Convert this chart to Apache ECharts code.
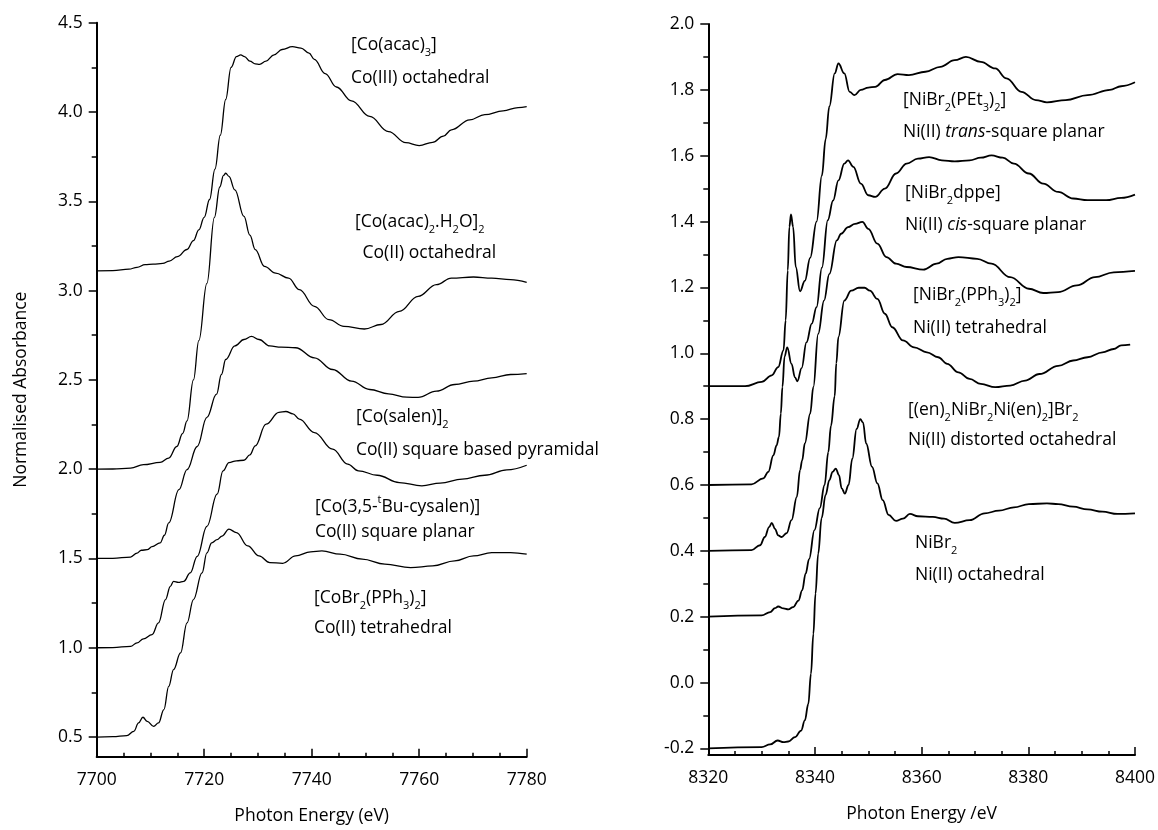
<!DOCTYPE html>
<html>
<head>
<meta charset="utf-8">
<script src="https://cdn.jsdelivr.net/npm/echarts@6/dist/echarts.min.js"></script>
<style>
html,body{margin:0;padding:0;background:#fff;}
#chart{width:1158px;height:830px;}
</style>
</head>
<body>
<div id="chart"></div>
<script>
// ---------- tick values ----------
const leftXTicks = [7700, 7720, 7740, 7760, 7780];
const leftYTicks = [0.5, 1.0, 1.5, 2.0, 2.5, 3.0, 3.5, 4.0, 4.5];
const leftYMinor = [0.75, 1.25, 1.75, 2.25, 2.75, 3.25, 3.75, 4.25];
const rightXTicks = [8320, 8340, 8360, 8380, 8400];
const rightYTicks = [-0.2, 0.0, 0.2, 0.4, 0.6, 0.8, 1.0, 1.2, 1.4, 1.6, 1.8, 2.0];
const rightYMinor = [-0.1, 0.1, 0.3, 0.5, 0.7, 0.9, 1.1, 1.3, 1.5, 1.7, 1.9];

// ---------- Co K-edge spectra (energy eV, normalised absorbance + offset) ----------
const coAcac3 = [[7700,3.11],[7703,3.112],[7706,3.12],[7707.5,3.13],[7709,3.145],[7710.5,3.148],[7712.3,3.152],[7713.5,3.165],[7715,3.19],[7716.8,3.23],[7718,3.28],[7719,3.34],[7720,3.41],[7721,3.51],[7722,3.68],[7723,3.87],[7724,4.07],[7725,4.25],[7726,4.31],[7726.8,4.32],[7727.5,4.31],[7728.5,4.285],[7729.5,4.27],[7730.3,4.267],[7731.5,4.285],[7733,4.32],[7734.5,4.35],[7736.4,4.366],[7738,4.358],[7739.5,4.33],[7740.5,4.295],[7742.5,4.215],[7744.6,4.14],[7747.4,4.062],[7750.8,3.975],[7754.3,3.89],[7757.5,3.828],[7760,3.812],[7762.5,3.83],[7764.5,3.865],[7766,3.9],[7769.4,3.956],[7772.2,3.985],[7775.6,4.006],[7778.4,4.025],[7780,4.03]];
const coAcac2H2O = [[7700,2.0],[7703,2.001],[7706.3,2.006],[7708.7,2.025],[7711.8,2.038],[7713.4,2.062],[7714.9,2.127],[7716,2.2],[7716.8,2.27],[7718,2.5],[7719,2.72],[7720.5,3.04],[7721.9,3.41],[7722.9,3.58],[7723.6,3.645],[7724,3.657],[7724.6,3.64],[7725.7,3.564],[7727.4,3.415],[7728.5,3.31],[7729.5,3.229],[7731.2,3.136],[7733.3,3.098],[7735.7,3.07],[7737.7,3.005],[7740.5,2.912],[7743.2,2.837],[7746,2.80],[7749.8,2.785],[7752.9,2.81],[7756.3,2.884],[7759.8,2.968],[7763.2,3.033],[7766,3.07],[7770.1,3.076],[7773.5,3.07],[7777,3.061],[7780,3.046]];
const coSalen = [[7700,1.5],[7703,1.501],[7706.3,1.508],[7707.5,1.53],[7708.3,1.546],[7709.4,1.549],[7710.3,1.566],[7711.8,1.587],[7712.6,1.63],[7713.4,1.699],[7715.3,1.885],[7716.8,1.997],[7718.7,2.127],[7720.5,2.29],[7722.3,2.42],[7723.2,2.53],[7724,2.614],[7725.7,2.69],[7727.4,2.726],[7728.8,2.744],[7730.2,2.726],[7732.2,2.69],[7734.3,2.683],[7737,2.68],[7740.5,2.623],[7743.9,2.558],[7747.4,2.493],[7750.8,2.446],[7754.3,2.422],[7757.7,2.403],[7759.8,2.402],[7763.2,2.437],[7766.6,2.474],[7770.1,2.493],[7773.5,2.511],[7777,2.53],[7780,2.535]];
const coCysalen = [[7700,1.0],[7703,1.001],[7706.3,1.008],[7707.5,1.027],[7708.7,1.05],[7710.3,1.074],[7711.5,1.139],[7712.8,1.27],[7713.7,1.344],[7714.3,1.372],[7715.2,1.366],[7716.2,1.372],[7717.4,1.419],[7718.7,1.512],[7720.5,1.68],[7722.4,1.86],[7723.5,1.99],[7724.6,2.037],[7726,2.047],[7727.4,2.05],[7728.5,2.08],[7729.5,2.131],[7731.5,2.252],[7733.9,2.318],[7735.2,2.323],[7736.5,2.31],[7737.7,2.28],[7740.5,2.205],[7743.9,2.112],[7746.7,2.028],[7748.7,1.991],[7752.2,1.966],[7756.3,1.925],[7760.5,1.907],[7763.9,1.922],[7768,1.944],[7772.2,1.966],[7776.3,1.996],[7780,2.022]];
const coBr2PPh3 = [[7700,0.5],[7703,0.502],[7705.6,0.508],[7706.9,0.532],[7707.8,0.579],[7708.6,0.611],[7709.4,0.588],[7710.6,0.56],[7711.5,0.579],[7712.5,0.654],[7713.4,0.784],[7714.3,0.878],[7715.6,0.971],[7716.8,1.139],[7718,1.27],[7719.6,1.419],[7720.5,1.531],[7721.4,1.587],[7722.4,1.605],[7723.3,1.625],[7724.6,1.664],[7726,1.645],[7728.1,1.57],[7730.2,1.514],[7732.2,1.477],[7734.6,1.473],[7737,1.514],[7739.8,1.537],[7741.9,1.542],[7745.3,1.524],[7749.4,1.496],[7753.6,1.468],[7758.4,1.449],[7762.5,1.458],[7766.6,1.486],[7770.1,1.514],[7773.5,1.533],[7777,1.533],[7780,1.524]];

// ---------- Ni K-edge spectra ----------
const niPEt3 = [[8320,0.9],[8326.9,0.9],[8330,0.913],[8331.9,0.933],[8333.1,0.958],[8334.1,1.009],[8334.5,1.10],[8334.9,1.252],[8335.2,1.384],[8335.5,1.422],[8335.9,1.384],[8336.4,1.262],[8337.2,1.188],[8338.1,1.22],[8339.1,1.29],[8340.3,1.40],[8341.3,1.54],[8342,1.65],[8342.7,1.75],[8343.7,1.85],[8344.4,1.88],[8345.5,1.85],[8346.5,1.794],[8347.4,1.784],[8348.6,1.80],[8350,1.807],[8351.3,1.809],[8353.1,1.83],[8355.5,1.848],[8357.6,1.845],[8360.7,1.855],[8363.5,1.87],[8366.2,1.89],[8368.3,1.90],[8371.1,1.885],[8373.8,1.865],[8375.9,1.835],[8378.7,1.794],[8381.4,1.769],[8383.5,1.762],[8387,1.769],[8391.1,1.784],[8395.3,1.80],[8397.4,1.811],[8400,1.823]];
const niDppe = [[8320,0.6],[8328.1,0.602],[8330.3,0.62],[8331.25,0.64],[8332.2,0.69],[8332.8,0.72],[8333.25,0.746],[8333.6,0.817],[8333.9,0.898],[8334.3,0.99],[8334.8,1.018],[8335.6,0.968],[8336.25,0.927],[8336.7,0.915],[8337.5,0.955],[8338.4,1.033],[8339.4,1.09],[8340.3,1.14],[8341.3,1.26],[8342.4,1.404],[8343.4,1.464],[8344.4,1.525],[8345.5,1.576],[8346.2,1.586],[8347.2,1.566],[8348.6,1.515],[8350,1.48],[8351.3,1.475],[8353.1,1.50],[8355.2,1.546],[8357.2,1.576],[8359.3,1.591],[8361.4,1.596],[8363.8,1.586],[8366.2,1.583],[8369,1.586],[8371.1,1.594],[8373.1,1.601],[8375.2,1.594],[8377.3,1.576],[8380.1,1.546],[8382.8,1.515],[8385.6,1.49],[8388.4,1.47],[8391.1,1.465],[8394.6,1.465],[8397.4,1.472],[8400,1.482]];
const niPPh3 = [[8320,0.4],[8328.1,0.402],[8329.7,0.417],[8330.6,0.442],[8331.4,0.472],[8331.9,0.485],[8332.5,0.467],[8333.1,0.447],[8333.75,0.442],[8334.7,0.454],[8335.6,0.493],[8336.6,0.564],[8337.2,0.645],[8337.6,0.675],[8338.1,0.726],[8339.1,0.817],[8339.7,0.898],[8340.6,1.059],[8341.7,1.16],[8342.7,1.241],[8344.1,1.343],[8344.9,1.363],[8346.2,1.383],[8347.5,1.393],[8348.9,1.399],[8350,1.378],[8351.7,1.333],[8353.4,1.292],[8355.2,1.272],[8357.2,1.262],[8360.3,1.254],[8362.8,1.272],[8364.8,1.287],[8366.9,1.292],[8370.4,1.287],[8373.1,1.272],[8376.6,1.231],[8380.1,1.196],[8382.8,1.183],[8385.6,1.186],[8389.1,1.206],[8392.5,1.231],[8396,1.246],[8400,1.25]];
const niEnDimer = [[8320,0.2],[8330,0.204],[8331.6,0.214],[8332.5,0.226],[8333.1,0.231],[8334.1,0.225],[8335,0.222],[8335.9,0.229],[8336.9,0.249],[8337.6,0.28],[8338.25,0.331],[8338.9,0.375],[8339.9,0.463],[8340.9,0.53],[8341.8,0.6],[8342.5,0.7],[8343,0.78],[8343.7,0.87],[8344,0.97],[8344.4,1.05],[8345.5,1.16],[8346.8,1.19],[8348.2,1.199],[8349.3,1.199],[8350.3,1.19],[8351.7,1.165],[8353.1,1.12],[8354.5,1.079],[8356.5,1.039],[8358.6,1.018],[8361,1.003],[8363.1,0.988],[8364.8,0.968],[8366.9,0.942],[8369,0.922],[8371.1,0.907],[8373.8,0.897],[8376.6,0.902],[8379.4,0.917],[8382.1,0.937],[8385.6,0.962],[8388.4,0.978],[8391.1,0.988],[8393.9,1.003],[8396,1.013],[8397.4,1.024],[8399.1,1.026]];
const niBr2 = [[8320,-0.2],[8330,-0.196],[8331.6,-0.188],[8333,-0.176],[8334.1,-0.181],[8335,-0.179],[8336.25,-0.166],[8337.4,-0.146],[8338.1,-0.115],[8338.75,-0.065],[8339.25,0.027],[8339.7,0.148],[8340.1,0.27],[8340.6,0.391],[8341.25,0.5],[8342,0.57],[8342.7,0.615],[8343.3,0.64],[8343.9,0.65],[8344.5,0.63],[8345,0.59],[8345.6,0.574],[8346.3,0.6],[8347,0.68],[8347.8,0.77],[8348.5,0.80],[8349,0.79],[8349.6,0.726],[8350.7,0.655],[8351.7,0.605],[8352.7,0.554],[8353.8,0.509],[8355.2,0.491],[8356.5,0.498],[8357.8,0.512],[8359.3,0.505],[8362.1,0.503],[8364.2,0.498],[8366.2,0.485],[8369,0.493],[8371.8,0.514],[8374.5,0.522],[8377.3,0.532],[8380.1,0.542],[8383.5,0.544],[8385.6,0.542],[8388.4,0.534],[8391.1,0.526],[8393.9,0.519],[8396.7,0.512],[8400,0.514]];

// ---------- annotation texts (rich: n normal, s subscript, u superscript, i italic) ----------
const leftNotes = [
  '{n|[Co(acac)}{s|3}{n|]}',
  '{n|Co(III) octahedral}',
  '{n|[Co(acac)}{s|2}{n|.H}{s|2}{n|O]}{s|2}',
  '{n| Co(II) octahedral}',
  '{n|[Co(salen)]}{s|2}',
  '{n|Co(II) square based pyramidal}',
  '{n|[Co(3,5-}{u|t}{n|Bu-cysalen)]}',
  '{n|Co(II) square planar}',
  '{n|[CoBr}{s|2}{n|(PPh}{s|3}{n|)}{s|2}{n|]}',
  '{n|Co(II) tetrahedral}'
];
const rightNotes = [
  '{n|[NiBr}{s|2}{n|(PEt}{s|3}{n|)}{s|2}{n|]}',
  '{n|Ni(II) }{i|trans}{n|-square planar}',
  '{n|[NiBr}{s|2}{n|dppe]}',
  '{n|Ni(II) }{i|cis}{n|-square planar}',
  '{n|[NiBr}{s|2}{n|(PPh}{s|3}{n|)}{s|2}{n|]}',
  '{n|Ni(II) tetrahedral}',
  '{n|[(en)}{s|2}{n|NiBr}{s|2}{n|Ni(en)}{s|2}{n|]Br}{s|2}',
  '{n|Ni(II) distorted octahedral}',
  '{n|NiBr}{s|2}',
  '{n|Ni(II) octahedral}'
];
const leftNotePos = [[351,45],[351,78],[355,222],[358,253],[356,417],[356,450],[315,507],[315,532],[314,598],[314,628]];
const rightNotePos = [[903,100],[903,132],[905,193],[905,225],[913,295],[913,328],[908,410],[908,440],[915,543],[915,575]];

const FONT = 'Open Sans';
const FS = 17.5;
const rich = {
  n: {fontSize: FS, fontFamily: FONT, lineHeight: 26, fill: '#000'},
  i: {fontSize: FS, fontFamily: FONT, lineHeight: 26, fontStyle: 'italic', fill: '#000'},
  s: {fontSize: 11, fontFamily: FONT, lineHeight: 12, verticalAlign: 'bottom', fill: '#000'},
  u: {fontSize: 11, fontFamily: FONT, lineHeight: 12, verticalAlign: 'top', fill: '#000'}
};

function notes(texts, pos) {
  return texts.map((t, k) => ({
    type: 'text', x: pos[k][0], y: pos[k][1], z: 100,
    style: {text: t, rich: rich, align: 'left', verticalAlign: 'middle',
            fontSize: FS, fontFamily: FONT, fill: '#000'}
  }));
}

const axisLineStyle = {color: '#000', width: 2};
const labelStyle = {fontSize: FS, fontFamily: FONT, color: '#000'};

function xAxisCfg(grid, min, max, ticks, name) {
  return {
    gridIndex: grid, type: 'value', min: min, max: max, interval: 20,
    name: name, nameLocation: 'middle', nameGap: 50,
    nameTextStyle: {fontSize: FS, fontFamily: FONT, color: '#000'},
    axisLine: {show: true, onZero: false, lineStyle: axisLineStyle},
    axisTick: {show: true, inside: true, length: 8, lineStyle: {color: '#000', width: 1.5}},
    minorTick: {show: true, splitNumber: 4, length: 4, lineStyle: {color: '#000', width: 1.5}},
    axisLabel: Object.assign({margin: 14, customValues: ticks, formatter: v => String(v)}, labelStyle),
    splitLine: {show: false}, minorSplitLine: {show: false}
  };
}
function yAxisCfg(grid, min, max, ticks, name) {
  return {
    gridIndex: grid, type: 'value', min: min, max: max, position: 'left',
    name: name, nameLocation: 'middle', nameGap: 67,
    nameTextStyle: {fontSize: FS, fontFamily: FONT, color: '#000'},
    axisLine: {show: true, onZero: false, lineStyle: axisLineStyle},
    axisTick: {show: true, customValues: ticks, length: 8, lineStyle: {color: '#000', width: 1.5}},
    axisLabel: Object.assign({margin: 14, customValues: ticks, formatter: v => v.toFixed(1)}, labelStyle),
    splitLine: {show: false}
  };
}
function yMinorCfg(grid, min, max, ticks) {
  return {
    gridIndex: grid, type: 'value', min: min, max: max, position: 'left',
    axisLine: {show: false, onZero: false},
    axisTick: {show: true, customValues: ticks, length: 5, lineStyle: {color: '#000', width: 1.5}},
    axisLabel: {show: false}, splitLine: {show: false}
  };
}
function line(data, xi, yi, w) {
  return {type: 'line', data: data, xAxisIndex: xi, yAxisIndex: yi, showSymbol: false,
          smooth: 0.4, smoothMonotone: 'x', silent: true, animation: false,
          lineStyle: {color: '#000', width: w}};
}

const chart = echarts.init(document.getElementById('chart'), null, {renderer: 'canvas'});
chart.setOption({
  backgroundColor: '#fff',
  animation: false,
  grid: [
    {left: 96.7, top: 22.7, width: 430, height: 734},
    {left: 708.3, top: 24, width: 428.4, height: 731}
  ],
  xAxis: [
    xAxisCfg(0, 7700, 7780, leftXTicks, 'Photon Energy (eV)'),
    xAxisCfg(1, 8320, 8400, rightXTicks, 'Photon Energy /eV')
  ],
  yAxis: [
    yAxisCfg(0, 0.39, 4.5, leftYTicks, 'Normalised Absorbance'),
    yMinorCfg(0, 0.39, 4.5, leftYMinor),
    yAxisCfg(1, -0.22, 2.0, rightYTicks, ''),
    yMinorCfg(1, -0.22, 2.0, rightYMinor)
  ],
  series: [
    line(coAcac3, 0, 0, 1.3),
    line(coAcac2H2O, 0, 0, 1.3),
    line(coSalen, 0, 0, 1.3),
    line(coCysalen, 0, 0, 1.3),
    line(coBr2PPh3, 0, 0, 1.3),
    line(niPEt3, 1, 2, 1.8),
    line(niDppe, 1, 2, 1.8),
    line(niPPh3, 1, 2, 1.8),
    line(niEnDimer, 1, 2, 1.8),
    line(niBr2, 1, 2, 1.8)
  ],
  graphic: notes(leftNotes, leftNotePos).concat(notes(rightNotes, rightNotePos))
});
</script>
</body>
</html>
